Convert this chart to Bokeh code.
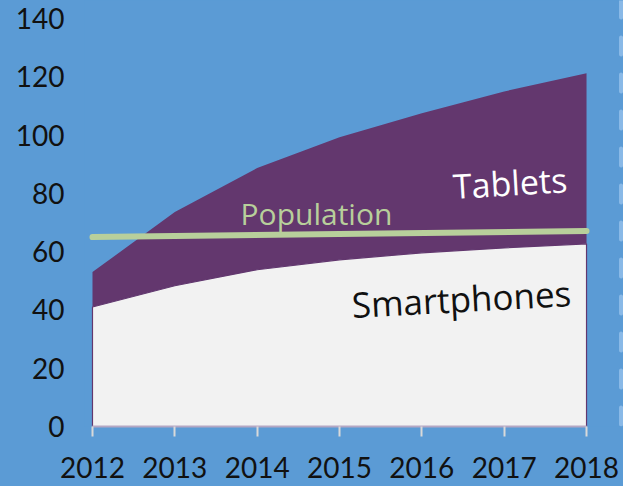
from bokeh.plotting import figure
from bokeh.models import Range1d, FixedTicker, Label, Span
from bokeh.embed import file_html
from bokeh.resources import INLINE

# ---- data ----
years = [2012, 2013, 2014, 2015, 2016, 2017, 2018]
smartphones = [41, 48.3, 53.8, 57.2, 59.6, 61.3, 62.7]
total_devices = [53, 73.6, 88.7, 99.3, 107.5, 115, 121.2]   # smartphones + tablets
population_years = [2012, 2018]
population = [65, 67.1]
y_ticks = [0, 20, 40, 60, 80, 100, 120, 140]

# ---- styles ----
BG = "#5b9bd5"
PURPLE = "#63376e"
WHITE = "#f2f2f2"
GREEN = "#b8cf9b"
DASH = "#8ebde9"
TICK = "#d9d9d9"

p = figure(width=623, height=486, output_backend="svg", toolbar_location=None,
           x_range=Range1d(2011.903, 2018.449), y_range=Range1d(0, 146.2),
           min_border_left=84, min_border_right=0, min_border_top=0,
           min_border_bottom=60)
p.styles = {"background-color": BG}
p.background_fill_color = BG
p.border_fill_color = BG
p.outline_line_color = None
p.xgrid.visible = False
p.ygrid.visible = False

# tablets band (between smartphones and total)
p.varea(x=years, y1=smartphones, y2=total_devices, fill_color=PURPLE)
# smartphones area
zeros = [0] * len(years)
p.patch(x=years + years[::-1], y=smartphones + zeros[::-1],
        fill_color=WHITE, line_color=PURPLE, line_width=1.2)

# population line
p.line(population_years, population, line_color=GREEN, line_width=6,
       line_cap="round")

# decorative dashed line at the right edge
p.add_layout(Span(location=2018.419, dimension="height", line_color=DASH,
                  line_width=4, line_dash="17 20", line_cap="round",
                  line_alpha=0.9))

# labels
p.add_layout(Label(x=2016.48, y=43.9, text="Smartphones", text_font="Open Sans",
                   text_font_size="35px", text_color="#111111",
                   text_align="center", text_baseline="middle", angle=0.054))
p.add_layout(Label(x=2017.07, y=83.7, text="Tablets", text_font="Open Sans",
                   text_font_size="34px", text_color="#ffffff",
                   text_align="center", text_baseline="middle", angle=0.06))
p.add_layout(Label(x=2014.72, y=73.1, text="Population", text_font="Open Sans",
                   text_font_size="30px", text_color=GREEN,
                   text_align="center", text_baseline="middle"))

# x axis
xa = p.xaxis[0]
xa.ticker = FixedTicker(ticks=years)
xa.bounds = (2012, 2018)
xa.axis_line_color = "#b4a7c4"
xa.axis_line_width = 2
xa.major_tick_line_color = TICK
xa.major_tick_line_width = 2
xa.major_tick_in = 0
xa.major_tick_out = 10
xa.minor_tick_line_color = None
xa.major_label_standoff = 20
xa.major_label_text_font = "Lato"
xa.major_label_text_font_size = "28px"
xa.major_label_text_color = "#111111"

# y axis
ya = p.yaxis[0]
ya.ticker = FixedTicker(ticks=y_ticks)
ya.axis_line_color = None
ya.major_tick_line_color = None
ya.minor_tick_line_color = None
ya.major_label_standoff = 14
ya.major_label_text_font = "Lato"
ya.major_label_text_font_size = "28px"
ya.major_label_text_color = "#111111"

open("out.html", "w").write(file_html(p, INLINE))
